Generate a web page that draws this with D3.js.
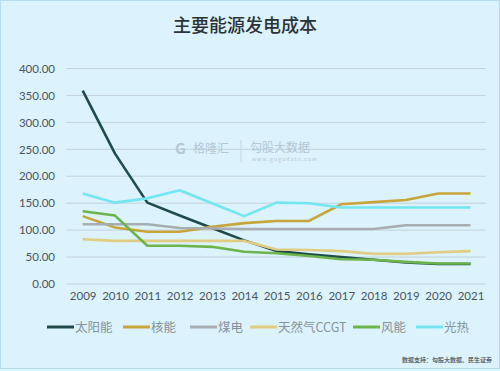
<!DOCTYPE html>
<html>
<head>
<meta charset="utf-8">
<script src="https://cdn.jsdelivr.net/npm/d3@7"></script>
<style>
  body { margin: 0; background: #dcf2fc; }
  svg { display: block; }
</style>
</head>
<body>
<script>
// data
const years = ["2009", "2010", "2011", "2012", "2013", "2014", "2015", "2016", "2017", "2018", "2019", "2020", "2021"]
const seriesNames = ["太阳能", "核能", "煤电", "天然气CCGT", "风能", "光热"]
const solar = [359, 242, 151, 127, 104, 81, 61, 55, 50, 45, 40, 37, 37]
const nuclear = [126, 105, 97, 97, 106, 113, 117, 117, 148, 152, 156, 168, 168]
const coal = [111, 111, 111, 104, 103, 102, 102, 102, 102, 102, 109, 109, 109]
const gas = [83, 80, 80, 80, 80, 80, 64, 63, 61, 56, 56, 59, 61]
const wind = [135, 127, 71, 71, 69, 60, 57, 52, 46, 45, 41, 38, 38]
const solarThermal = [168, 151, 159, 174, 150, 126, 151, 150, 142, 142, 142, 142, 142]
const yTicks = [0, 50, 100, 150, 200, 250, 300, 350, 400]

const colors = ["#1f4c4b", "#c8a53c", "#a7adb2", "#e0cc82", "#6cb44c", "#72e6f1"]
const allSeries = [solar, nuclear, coal, gas, wind, solarThermal]

const W = 500, H = 371
const svg = d3.select("body").append("svg").attr("width", W).attr("height", H)

// frame
svg.append("rect").attr("x", 0.5).attr("y", 0.5).attr("width", W - 1).attr("height", 368)
    .attr("fill", "#dcf2fc").attr("stroke", "#b3dcee")

svg.append("text")
    .attr("x", 245).attr("y", 32)
    .attr("text-anchor", "middle")
    .attr("font-family", "Noto Sans CJK SC")
    .attr("font-size", 18)
    .attr("font-weight", 500)
    .attr("fill", "#2b3338")
    .text("主要能源发电成本")

const x = d3.scalePoint().domain(years).range([82.7, 470.5])
const y = d3.scaleLinear().domain([0, 400]).range([284, 68.5])

// gridlines
svg.append("g").selectAll("line").data(yTicks).enter().append("line")
    .attr("x1", 66).attr("x2", 486)
    .attr("y1", d => y(d)).attr("y2", d => y(d))
    .attr("stroke", "#c3d2da").attr("stroke-width", 1)

// watermark
let wm = svg.append("g").attr("fill", "#b4c7d5").attr("font-family", "Noto Sans CJK SC")
wm.append("text").attr("x", 175).attr("y", 154).attr("font-size", 15).attr("font-weight", 700).text("G")
wm.append("text").attr("x", 193).attr("y", 153).attr("font-size", 12).text("格隆汇")
wm.append("line").attr("x1", 241).attr("x2", 241).attr("y1", 140).attr("y2", 162).attr("stroke", "#c6d6e0")
wm.append("text").attr("x", 250).attr("y", 152).attr("font-size", 12).text("勾股大数据")
wm.append("text").attr("x", 252).attr("y", 161).attr("font-size", 5).attr("letter-spacing", 1.2).text("www.gugudata.com")

// y axis
const yAxis = d3.axisLeft(y).tickValues(yTicks).tickFormat(d3.format(".2f")).tickSize(0).tickPadding(0)
const gy = svg.append("g").attr("transform", "translate(55,0)").call(yAxis)
gy.select(".domain").remove()
gy.selectAll("text").attr("font-family", "Lato").attr("font-size", 11.5).attr("fill", "#4a555c")

// x axis
const xAxis = d3.axisBottom(x).tickSize(0).tickPadding(0)
const gx = svg.append("g").attr("transform", "translate(0,292)").call(xAxis)
gx.select(".domain").remove()
gx.selectAll("text").attr("font-family", "Lato").attr("font-size", 11.5).attr("fill", "#4a555c")

// lines
const line = d3.line()
    .x((d, i) => x(years[i]))
    .y(d => y(d))

svg.append("g").selectAll("path").data(allSeries).enter().append("path")
    .attr("d", d => line(d))
    .attr("fill", "none")
    .attr("stroke", (d, i) => colors[i])
    .attr("stroke-width", 2.6)
    .attr("stroke-linejoin", "round")

// legend
const legendX = [47, 123, 190, 250, 353, 416]
const leg = svg.append("g").selectAll("g").data(seriesNames).enter().append("g")
    .attr("transform", (d, i) => "translate(" + legendX[i] + ",327)")
leg.append("line").attr("x1", 0).attr("x2", 27).attr("y1", 0).attr("y2", 0)
    .attr("stroke", (d, i) => colors[i]).attr("stroke-width", 3)
leg.append("text").attr("x", 28).attr("y", 4.5)
    .attr("font-family", "Noto Sans CJK SC").attr("font-size", 12.5).attr("fill", "#86929a")
    .text(d => d)

svg.append("text")
    .attr("x", 492).attr("y", 362)
    .attr("text-anchor", "end")
    .attr("font-family", "Noto Sans CJK SC")
    .attr("font-size", 6)
    .attr("font-weight", 700)
    .attr("fill", "#5a6a75")
    .text("数据支持：勾股大数据、民生证券")
</script>
</body>
</html>
